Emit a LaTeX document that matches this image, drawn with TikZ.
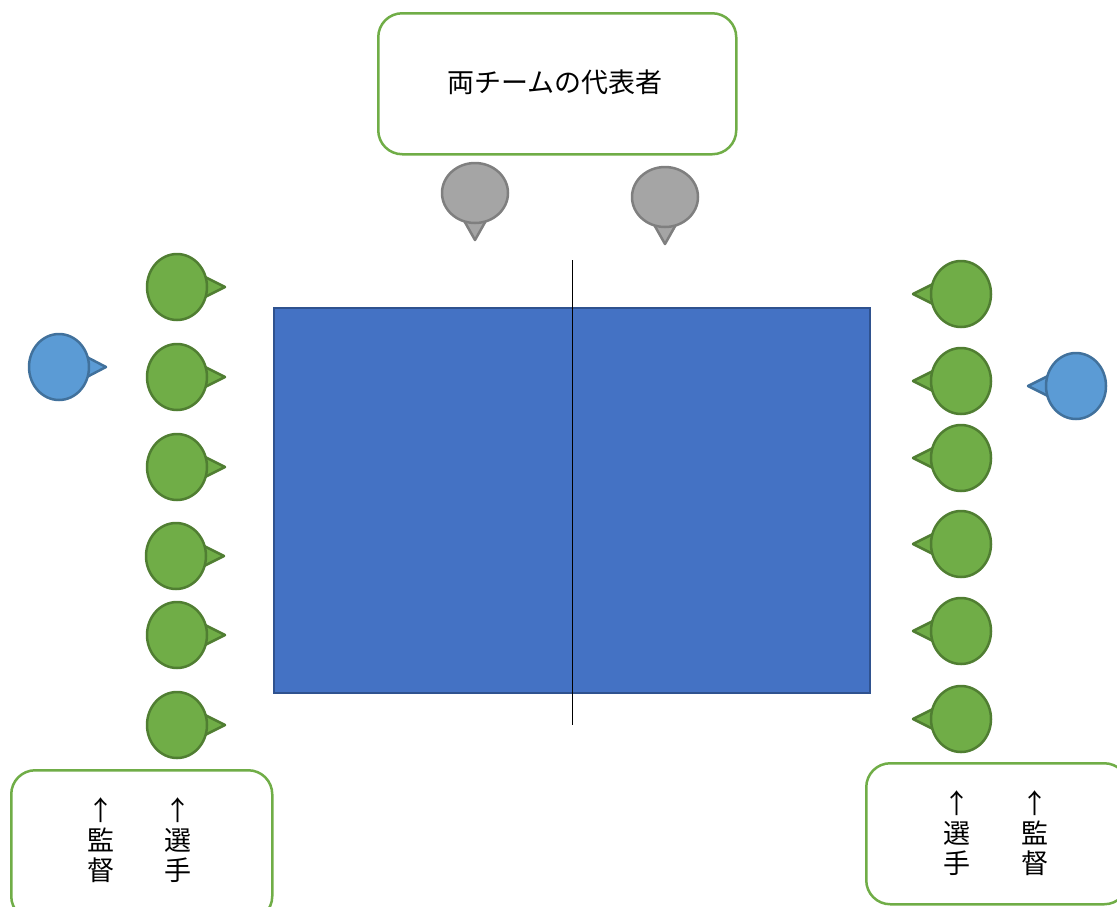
\documentclass[tikz,border=0pt]{standalone}
\usepackage{fontspec}
\usetikzlibrary{calc}
\newfontfamily\cjk{Noto Sans CJK JP}
\definecolor{grn}{HTML}{70AD47}
\definecolor{grnd}{HTML}{507E32}
\definecolor{blu}{HTML}{5B9BD5}
\definecolor{blud}{HTML}{41719C}
\definecolor{gry}{HTML}{A5A5A5}
\definecolor{gryd}{HTML}{7F7F7F}
\definecolor{tbl}{HTML}{4472C4}
\definecolor{tbld}{HTML}{2F528F}
\begin{document}
\begin{tikzpicture}[x=1pt,y=-1pt,
  lbox/.style={draw=grn,line width=2.5pt,rounded corners=24pt,fill=white},
  vtext/.style={font=\cjk\fontsize{27}{30}\selectfont,align=center,inner sep=0pt},
  pinstyle/.style={line width=2.5pt,line join=round}]
\useasboundingbox (0,0) rectangle (1117,906);
% pins: #1 center, #2 tip, fill, draw, ellipse radii
\newcommand\pinR[5]{% right-pointing
  \filldraw[pinstyle,fill=#3,draw=#4] ($(#1)+(24,-12)$) -- (#2) -- ($(#1)+(24,12)$) -- cycle;
  \filldraw[pinstyle,fill=#3,draw=#4] (#1) ellipse [x radius=#5, y radius=33];}
\newcommand\pinL[5]{% left-pointing
  \filldraw[pinstyle,fill=#3,draw=#4] ($(#1)+(-24,-12)$) -- (#2) -- ($(#1)+(-24,12)$) -- cycle;
  \filldraw[pinstyle,fill=#3,draw=#4] (#1) ellipse [x radius=#5, y radius=33];}
\newcommand\pinD[4]{% down-pointing
  \filldraw[pinstyle,fill=#3,draw=#4] ($(#1)+(-13,24)$) -- (#2) -- ($(#1)+(13,24)$) -- cycle;
  \filldraw[pinstyle,fill=#3,draw=#4] (#1) ellipse [x radius=33, y radius=30];}
% top box
\node[lbox,minimum width=358pt,minimum height=141pt,anchor=north west] (top) at (377,12) {};
\node[font=\cjk\fontsize{27}{30}\selectfont] (toplbl) at (555,82) {両チームの代表者};
% grey pins
\coordinate (g1) at (475,193); \coordinate (g1t) at (475,240);
\coordinate (g2) at (665,197); \coordinate (g2t) at (665,244);
\pinD{g1}{g1t}{gry}{gryd}
\pinD{g2}{g2t}{gry}{gryd}
% table
\node[draw=tbld,fill=tbl,line width=2pt,minimum width=596pt,minimum height=385pt,anchor=north west,inner sep=0pt] (table) at (273,307) {};
\coordinate (nt) at (572,260); \coordinate (nb) at (572,725);
\draw[line width=1pt] (nt) -- (nb);
% left players
\foreach \y/\x [count=\i] in {287/177,377/177,467/177,556/176,635/177,725/177}{
  \coordinate (l\i) at (\x,\y); \coordinate (l\i t) at (\x+48,\y);
  \pinR{l\i}{l\i t}{grn}{grnd}{30}}
\coordinate (lc) at (59,367); \coordinate (lct) at (106,367);
\pinR{lc}{lct}{blu}{blud}{30}
% right players
\foreach \y [count=\i] in {294,381,458,544,631,719}{
  \coordinate (r\i) at (961,\y); \coordinate (r\i t) at (913,\y);
  \pinL{r\i}{r\i t}{grn}{grnd}{30}}
\coordinate (rc) at (1076,386); \coordinate (rct) at (1028,386);
\pinL{rc}{rct}{blu}{blud}{30}
% bottom boxes
\node[lbox,minimum width=261pt,minimum height=150pt,anchor=north west] (bl) at (10,769) {};
\node[vtext,anchor=north] (bl1) at (101,797) {↑\\監\\督};
\node[vtext,anchor=north] (bl2) at (178,797) {↑\\選\\手};
\node[lbox,minimum width=262pt,minimum height=141pt,anchor=north west] (br) at (865,762) {};
\node[vtext,anchor=north] (br1) at (957,790) {↑\\選\\手};
\node[vtext,anchor=north] (br2) at (1035,790) {↑\\監\\督};
\end{tikzpicture}
\end{document}
